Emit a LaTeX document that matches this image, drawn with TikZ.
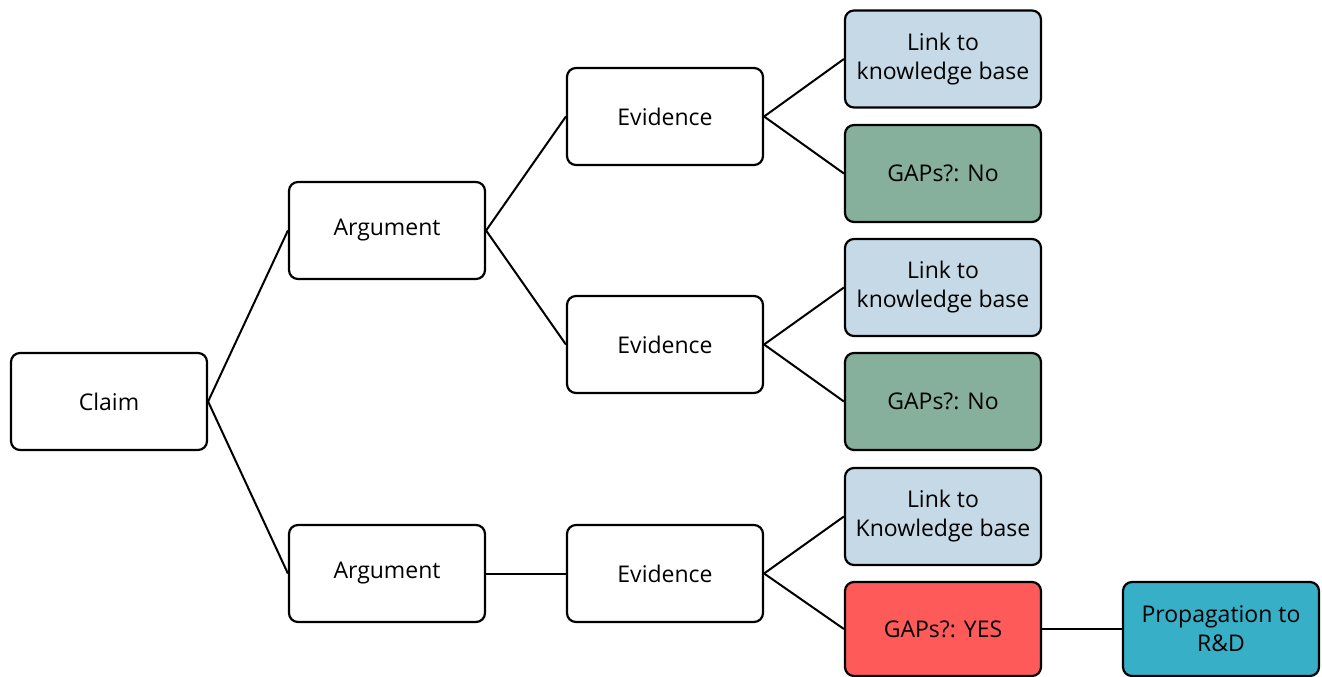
\documentclass[tikz,border=0pt]{standalone}
\usepackage{fontspec}
\setmainfont{Open Sans}
\definecolor{linkblue}{HTML}{C6D9E7}
\definecolor{gapgreen}{HTML}{86B09C}
\definecolor{gapred}{HTML}{FF5A5A}
\definecolor{propteal}{HTML}{36AFC7}
\begin{document}
\begin{tikzpicture}[x=1pt,y=-1pt,
  box/.style={draw=black, line width=2.2pt, rounded corners=9pt, minimum width=196pt, align=center,
    font=\fontsize{23}{29}\selectfont, inner sep=0pt},
  tall/.style={minimum height=97pt},
  conn/.style={line width=2pt}]
\useasboundingbox (0,0) rectangle (1322,677);
\node[box,tall,fill=white] (claim) at (109,401.5) {Claim};
\node[box,tall,fill=white] (arg1) at (387,230.5) {Argument};
\node[box,tall,fill=white] (arg2) at (387,573.5) {Argument};
\node[box,tall,fill=white] (ev1) at (665,116.5) {Evidence};
\node[box,tall,fill=white] (ev2) at (665,344.5) {Evidence};
\node[box,tall,fill=white] (ev3) at (665,573.5) {Evidence};
\node[box,tall,fill=linkblue] (l1) at (943,59) {Link to\\knowledge base};
\node[box,tall,fill=gapgreen] (g1) at (943,173.5) {GAPs?: No};
\node[box,tall,fill=linkblue] (l2) at (943,287.5) {Link to\\knowledge base};
\node[box,tall,fill=gapgreen] (g2) at (943,401.5) {GAPs?: No};
\node[box,tall,fill=linkblue] (l3) at (943,516.5) {Link to\\Knowledge base};
\node[box,minimum height=94pt,fill=gapred] (g3) at (943,629) {GAPs?: YES};
\node[box,minimum height=94pt,fill=propteal] (prop) at (1221,629) {Propagation to\\R\&D};
\draw[conn] (claim.east) -- (arg1.west);
\draw[conn] (claim.east) -- (arg2.west);
\draw[conn] (arg1.east) -- (ev1.west);
\draw[conn] (arg1.east) -- (ev2.west);
\draw[conn] (arg2.east) -- (ev3.west);
\draw[conn] (ev1.east) -- (l1.west);
\draw[conn] (ev1.east) -- (g1.west);
\draw[conn] (ev2.east) -- (l2.west);
\draw[conn] (ev2.east) -- (g2.west);
\draw[conn] (ev3.east) -- (l3.west);
\draw[conn] (ev3.east) -- (g3.west);
\draw[conn] (g3.east) -- (prop.west);
\end{tikzpicture}
\end{document}
